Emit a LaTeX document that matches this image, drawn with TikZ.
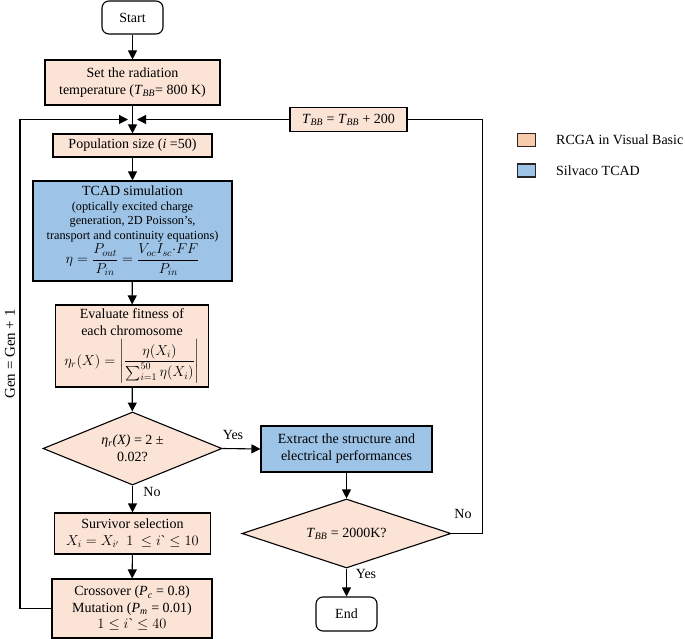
\documentclass[tikz,border=0pt]{standalone}
\usepackage{amsmath}
\usepackage{fontspec}
\setmainfont{Liberation Serif}
\usetikzlibrary{shapes.geometric,arrows.meta}
\definecolor{peach}{HTML}{FBE3D6}
\definecolor{peachL}{HTML}{F8CBAD}
\definecolor{skyb}{HTML}{9DC3E6}
\newcommand{\TBB}{\textit{T}\textsubscript{\textit{BB}}}
\newcommand{\igr}{i\text{\textasciigrave}}
\begin{document}
\begin{tikzpicture}[x=1pt,y=-1pt,
  base/.style={draw=black,line width=1.1pt,align=center,inner sep=0pt,font=\fontsize{14}{17}\selectfont},
  ga/.style={base,fill=peach,rectangle},
  tc/.style={base,fill=skyb,rectangle},
  term/.style={base,fill=white,rectangle,rounded corners=7pt},
  dec/.style={base,fill=peach,diamond},
  arr/.style={line width=1.1pt,-{Triangle[length=9pt,width=9pt]}},
  ln/.style={line width=1.1pt},
  lbl/.style={font=\fontsize{14}{17}\selectfont,inner sep=0pt},
  legbox/.style={draw=black!85,line width=1.6pt,minimum width=18,minimum height=13,inner sep=0pt}]
\useasboundingbox (0,0) rectangle (685,639);

% main column
\node[term,minimum width=61,minimum height=33] (start) at (132.5,17.5) {Start};
\node[ga,minimum width=175,minimum height=45] (rad) at (132.5,82.5)
  {Set the radiation\\temperature (\TBB= 800 K)};
\node[ga,minimum width=159,minimum height=23] (pop) at (132.5,145.5)
  {Population size (\textit{i} =50)};
\node[tc,minimum width=199,minimum height=100,font=\fontsize{12.3}{14.5}\selectfont] (tcad) at (132.5,231)
  {{\fontsize{14}{17}\selectfont TCAD simulation}\\
   (optically excited charge\\
   generation, 2D Poisson’s,\\
   transport and continuity equations)\\[1pt]
   {\fontsize{14}{17}\selectfont $\eta=\dfrac{P_{out}}{P_{in}}=\dfrac{V_{oc}I_{sc}{\cdot}FF}{P_{in}}$}};
\node[ga,minimum width=153,minimum height=82] (eval) at (132,346)
  {Evaluate fitness of\\each chromosome\\[3pt]
   $\eta_r(X)=\left|\dfrac{\eta(X_i)}{\sum_{i=1}^{50}\eta(X_i)}\right|$};
\node[dec,shape aspect=2.45,minimum width=179,minimum height=73] (d1) at (132.5,448.5)
  {\textit{η\textsubscript{r}(X)} = 2 ±\\0.02?};
\node[ga,minimum width=156,minimum height=41] (surv) at (132.5,533.5)
  {Survivor selection\\$X_i=X_{i'}\ \ 1\ \le \igr\le 10$};
\node[ga,minimum width=160,minimum height=59,font=\fontsize{14}{16.5}\selectfont] (cross) at (132,608.5)
  {Crossover (\textit{P}\textsubscript{\textit{c}} = 0.8)\\Mutation (\textit{P}\textsubscript{\textit{m}} = 0.01)\\$1\le \igr\le 40$};

% right column
\node[tc,minimum width=171,minimum height=46] (extract) at (346.5,449)
  {Extract the structure and\\electrical performances};
\node[dec,shape aspect=3,minimum width=209,minimum height=69] (d2) at (346.5,533.5)
  {\TBB{} = 2000K?};
\node[term,minimum width=61,minimum height=34] (end) at (346.5,614) {End};
\node[ga,minimum width=117,minimum height=24] (tbb) at (348.5,119.5)
  {\TBB{} = \TBB{} + 200};

% junction coordinates
\coordinate (jl) at (128,119.5);
\coordinate (jr) at (137,119.5);
\coordinate (gl) at (20,119.5);
\coordinate (rr) at (482.5,119.5);

% connectors
\draw[arr] (start) -- (rad);
\draw[arr] (rad) -- (pop);
\draw[arr] (pop) -- (tcad);
\draw[arr] (tcad) -- (eval);
\draw[arr] (eval) -- (d1);
\draw[arr] (d1) -- (surv);
\draw[arr] (surv) -- (cross);
\draw[arr] (cross.west) -| (gl) -- (jl);
\draw[arr] (d1.east) -- (extract.west);
\draw[arr] (extract) -- (d2);
\draw[arr] (d2) -- (end);
\draw[ln] (d2.east) -| (rr) -- (tbb.east);
\draw[arr] (tbb.west) -- (jr);

% labels
\node[lbl] (yes1) at (233,435) {Yes};
\node[lbl] (no1) at (152,492) {No};
\node[lbl] (no2) at (463,514) {No};
\node[lbl] (yes2) at (366,574) {Yes};
\node[lbl,rotate=90,font=\fontsize{15}{18}\selectfont] (gen) at (10,354) {Gen = Gen + 1};

% legend
\node[legbox,fill=peachL] (lg1) at (526.5,140) {};
\node[lbl,anchor=west] (lt1) at (556,140) {RCGA in Visual Basic};
\node[legbox,fill=skyb] (lg2) at (526.5,170.5) {};
\node[lbl,anchor=west] (lt2) at (556,170.5) {Silvaco TCAD};
\end{tikzpicture}
\end{document}
